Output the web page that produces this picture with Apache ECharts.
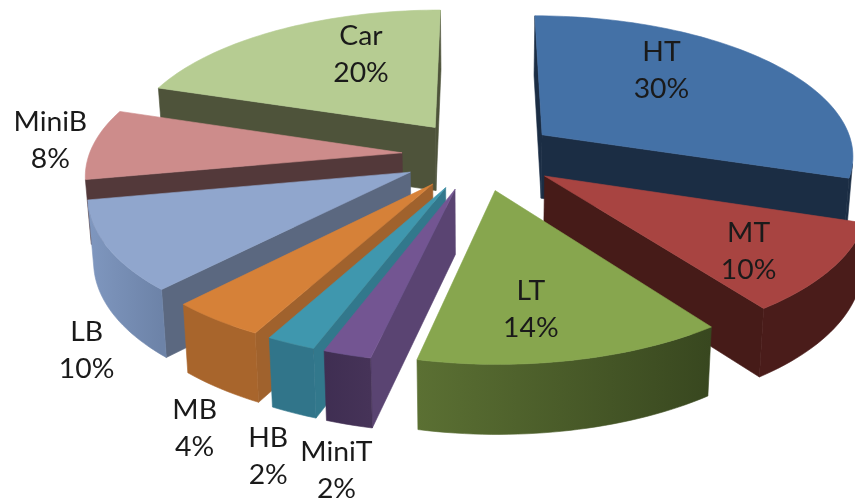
<!DOCTYPE html>
<html><head><meta charset="utf-8">
<style>html,body{margin:0;padding:0;background:#fff}#c{width:855px;height:501px}</style>
<script src="https://cdn.jsdelivr.net/npm/echarts@6/dist/echarts.min.js"></script>
</head><body><div id="c"></div>
<script>
const categories=['HT','MT','LT','MiniT','HB','MB','LB','MiniB','Car'];
const values=[30,10,14,2,2,4,10,8,20];
const topColors=['#4471a6','#a84441','#87a64e','#735592','#3f97ae','#d68138','#90a6cd','#cd8c8b','#b6cc92'];
const cutColors=['#1b2d44','#461b18','#4a5c2a','#5a4472','#32788c','#a0622d','#5b6880','#53393a','#4e533a'];
const sideStart=['#1b2d44','#4a1c1a','#38471f','#463358','#31758a','#a8652c','#6d83a8','#53393a','#4e533a'];
const sideEnd=['#1b2d44','#4a1c1a','#5b7033','#3f2e52','#31758a','#a8652c','#7f97bf','#53393a','#4e533a'];
const labelAngles=[40.1,129.9,172.5,190.4,196.15,203.06,218.45,274.3,335];
const labelRadii=[.665,.76,.724,1.522,1.505,1.468,1.35,1.145,.647];

const view={cx:480,cy:155,A:313,B:140,k:.134,explode:.25,depth:64,shrink:.985,warpAt:192,warpWidth:20,warpDeg:2};
const rad=d=>d*Math.PI/180;
const total=values.reduce((a,b)=>a+b,0);
let acc=0;
const slices=values.map((v,i)=>{const a0=acc/total*360;acc+=v;const a1=acc/total*360;return {i,a0,a1,mid:(a0+a1)/2};});
function project(x,y,bottom){
  const w=1+view.k*y;
  let X=view.cx+view.A*x/w, Y=view.cy-view.B*y/w;
  if(bottom){X=view.cx+(X-view.cx)*view.shrink;Y+=view.depth/Math.sqrt(w);}
  return [X,Y];
}
function rimPoint(s,deg,r,bottom){
  const ox=view.explode*Math.sin(rad(s.mid)),oy=view.explode*Math.cos(rad(s.mid));
  return project(ox+r*Math.sin(rad(deg)),oy+r*Math.cos(rad(deg)),bottom);
}
// the source picture's camera pulls the nearest rim slightly to the right
const warp=d=>d-view.warpDeg*Math.exp(-Math.pow((d-view.warpAt)/view.warpWidth,2));
function area(p){let a=0;for(let i=0;i<p.length;i++){const q=p[(i+1)%p.length];a+=p[i][0]*q[1]-q[0]*p[i][1];}return a/2;}
function poly(points,color,z){return {type:'polygon',shape:{points},style:{fill:color,stroke:color,lineWidth:.6},z2:z};}
function sliceElements(s){
  const i=s.i,kids=[];
  const face=(deg,sign)=>{
    const p=[rimPoint(s,deg,0,false),rimPoint(s,warp(deg),1,false),rimPoint(s,warp(deg),1,true),rimPoint(s,deg,0,true)];
    if(area(p)*sign>0) kids.push(poly(p,cutColors[i],1));
  };
  face(s.a0,-1);
  face(s.a1,1);
  const n=Math.max(4,Math.ceil((s.a1-s.a0)/1.5));
  const up=[],down=[];
  for(let j=0;j<n;j++){
    const d0=warp(s.a0+(s.a1-s.a0)*j/n),d1=warp(s.a0+(s.a1-s.a0)*(j+1)/n);
    const p=[rimPoint(s,d0,1,false),rimPoint(s,d1,1,false),rimPoint(s,d1,1,true),rimPoint(s,d0,1,true)];
    if(area(p)<0){
      if(!up.length){up.push(p[0]);down.push(p[3]);}
      up.push(p[1]);down.push(p[2]);
    }
  }
  if(up.length){
    const a=up[0],b=up[up.length-1];
    const fill=new echarts.graphic.LinearGradient(a[0],0,b[0],0,[{offset:0,color:sideStart[i]},{offset:1,color:sideEnd[i]}],true);
    kids.push({type:'polygon',shape:{points:up.concat(down.slice().reverse())},style:{fill,stroke:fill,lineWidth:.6},z2:2});
  }
  const top=[rimPoint(s,s.a0,0,false)];
  for(let j=0;j<=n;j++) top.push(rimPoint(s,warp(s.a0+(s.a1-s.a0)*j/n),1,false));
  kids.push(poly(top,topColors[i],3));
  return kids;
}
const order=slices.slice().sort((a,b)=>Math.cos(rad(b.mid))-Math.cos(rad(a.mid)));
const chart=echarts.init(document.getElementById('c'),null,{renderer:'canvas'});
chart.setOption({
  animation:false,
  series:[{
    type:'custom',coordinateSystem:'none',silent:true,z:1,
    data:order.map(s=>s.i),
    renderItem:(p,api)=>({type:'group',children:sliceElements(slices[api.value(0)])})
  },{
    type:'custom',coordinateSystem:'none',silent:true,z:2,
    data:slices.map(s=>s.i),
    renderItem:(p,api)=>{
      const i=api.value(0),c=rimPoint(slices[i],labelAngles[i],labelRadii[i],false);
      return {type:'text',x:c[0],y:c[1],scaleX:1.09,style:{
        text:categories[i]+'\n'+values[i]+'%',align:'center',verticalAlign:'middle',
        font:'400 26px Lato',lineHeight:37,fill:'#1a1a1a'}};
    }
  }]
});
</script></body></html>
